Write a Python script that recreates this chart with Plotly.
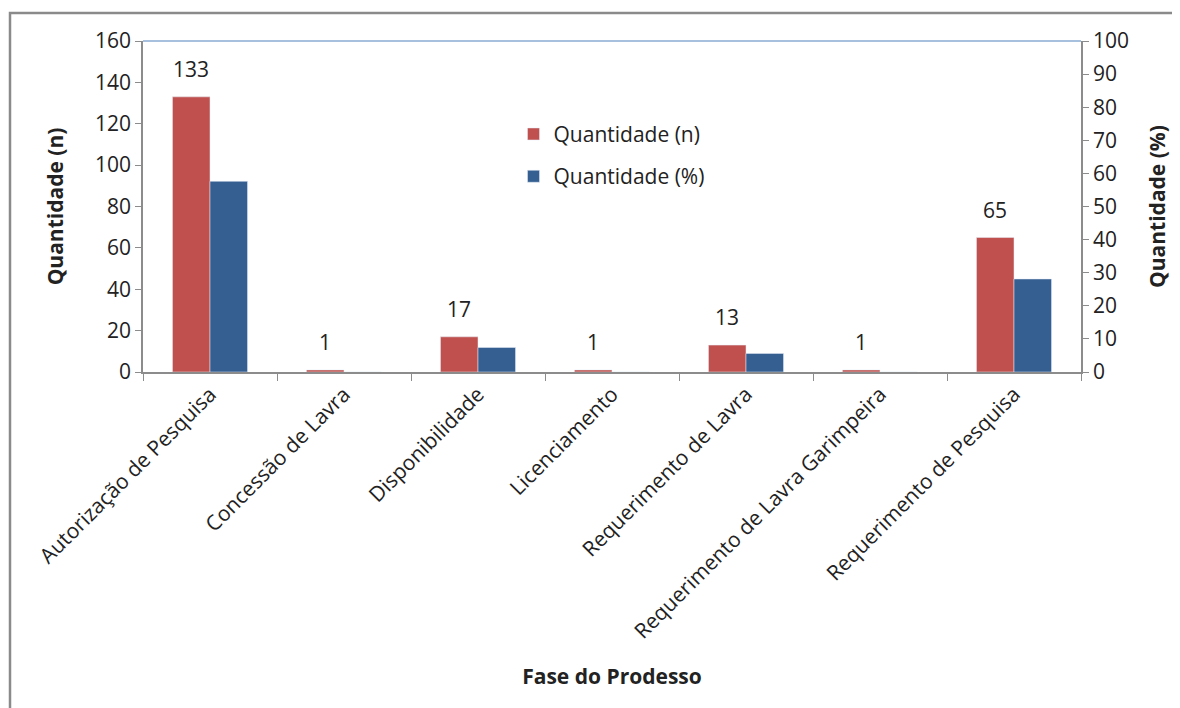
import plotly.graph_objects as go

categories = ["Autorização de Pesquisa", "Concessão de Lavra", "Disponibilidade",
              "Licenciamento", "Requerimento de Lavra", "Requerimento de Lavra Garimpeira",
              "Requerimento de Pesquisa"]
qtd_n = [133, 1, 17, 1, 13, 1, 65]
qtd_pct = [57.6, 0, 7.4, 0, 5.6, 0, 28.1]

FONT = "Open Sans, Segoe UI, DejaVu Sans, sans-serif"
RED = "#C0504D"
BLUE = "#365F91"
GRAY = "#8C8C8C"
FS = 21

fig = go.Figure()
fig.add_trace(go.Bar(
    x=categories, y=qtd_n, name="Quantidade (n)", marker_color=RED,
    width=0.28, offset=-0.28, yaxis="y", legendgroup="a",
))
fig.add_trace(go.Bar(
    x=categories, y=qtd_pct, name="Quantidade (%)", marker_color=BLUE,
    width=0.28, offset=0.0, yaxis="y2", legendgroup="b",
))

annotations = [
    dict(x=c, y=v, xref="x", yref="y", text=str(v), showarrow=False,
         xshift=-19, yshift=12, yanchor="bottom",
         font=dict(size=FS, color="#222222", family=FONT))
    for c, v in zip(categories, qtd_n)
]

fig.update_layout(
    width=1180, height=708,
    margin=dict(l=135, r=107, t=33, b=344),
    paper_bgcolor="white", plot_bgcolor="white",
    font=dict(family=FONT, size=FS, color="#222222"),
    barmode="overlay",
    showlegend=True,
    legend=dict(x=0.395, y=0.78, xanchor="left", yanchor="top",
                bgcolor="rgba(0,0,0,0)", font=dict(size=21),
                traceorder="grouped", tracegroupgap=12),
    xaxis=dict(
        type="category", tickangle=-45, tickson="boundaries",
        ticks="outside", ticklen=7, tickcolor=GRAY,
        showline=True, linecolor=GRAY, linewidth=1.5,
        showgrid=False, tickfont=dict(size=FS), automargin=False,
        title=dict(text="<b>Fase do Prodesso</b>", font=dict(size=FS), standoff=26),
        range=[-0.5, 6.5],
    ),
    yaxis=dict(
        range=[0, 160], dtick=20, ticks="outside", ticklen=6, tickcolor=GRAY,
        showline=True, linecolor=GRAY, linewidth=1.5, showgrid=False, zeroline=False,
        tickfont=dict(size=FS), automargin=False,
        title=dict(text="<b>Quantidade (n)</b>", font=dict(size=FS), standoff=26),
    ),
    yaxis2=dict(
        range=[0, 100], dtick=10, overlaying="y", side="right", anchor="x",
        ticks="outside", ticklen=6, tickcolor=GRAY,
        showline=True, linecolor=GRAY, linewidth=1.5, showgrid=False, zeroline=False,
        tickfont=dict(size=FS), automargin=False,
        title=dict(text="<b>Quantidade (%)</b>", font=dict(size=FS), standoff=22),
    ),
    annotations=annotations,
    shapes=[
        dict(type="line", xref="paper", yref="paper", x0=0, x1=1, y0=1, y1=1,
             line=dict(color="#4F81BD", width=1)),
        dict(type="rect", xref="paper", yref="paper",
             x0=(10 - 143) / 938, x1=1.3, y0=(372 - 13) / 331, y1=-1.5,
             line=dict(color="#8A8A8A", width=2.5), layer="below"),
    ],
)

fig.write_html("out.html")
